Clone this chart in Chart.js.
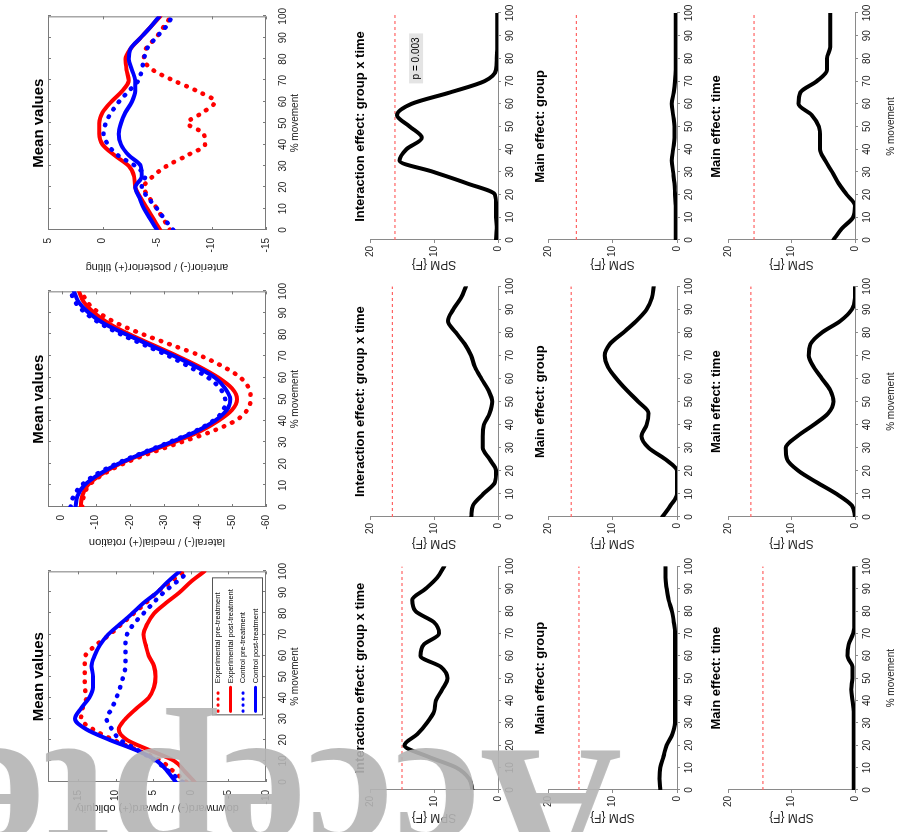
<!DOCTYPE html>
<html>
<head>
<meta charset="utf-8">
<script src="https://cdn.jsdelivr.net/npm/chart.js@4.4.1/dist/chart.umd.min.js"></script>
<style>
  html, body { margin: 0; padding: 0; background: #fff; width: 899px; height: 832px; overflow: hidden; }
  .panel { position: absolute; transform-origin: 0 0; }
  .panel canvas { display: block; }
  #mark {
    position: absolute; left: 622px; top: 916px; z-index: 10;
    transform-origin: 0 0; transform: rotate(180deg);
    font: bold 196px "Liberation Serif", serif; line-height: 200px;
    color: rgba(180, 180, 180, 0.9); white-space: nowrap; pointer-events: none;
  }
</style>
</head>
<body>
<div id="mark">Accepted</div>
<script>
Chart.defaults.font.family = '"Liberation Sans", Arial, sans-serif';
Chart.defaults.color = '#222';
Chart.defaults.animation = false;

// % movement, shared by every panel
const pct = [0, 5, 10, 15, 20, 25, 30, 35, 40, 45, 50, 55, 60, 65, 70, 75, 80, 85, 90, 95, 100];

// mean values - tilting
const tiltExpPre  = [-6.2, -5.6, -5.0, -4.3, -3.8, -4.6, -5.9, -7.8, -9.4, -9.3, -7.8, -9.2, -10.3, -8.7, -6.5, -4.6, -3.8, -4.0, -4.9, -5.6, -6.3];
const tiltExpPost = [-5.3, -4.7, -4.1, -3.5, -3.0, -2.9, -2.4, -1.1, 0.0, 0.3, 0.3, 0.0, -0.8, -1.8, -2.4, -2.2, -2.1, -2.6, -3.5, -4.4, -5.3];
const tiltConPre  = [-6.5, -5.7, -5.0, -4.2, -3.6, -3.9, -3.0, -1.4, -0.5, -0.1, -0.3, -0.8, -1.5, -2.4, -3.3, -3.6, -3.8, -4.1, -4.9, -5.8, -6.4];
const tiltConPost = [-5.0, -4.4, -3.8, -3.4, -3.0, -3.6, -3.5, -2.4, -1.7, -1.5, -1.7, -2.1, -2.7, -3.0, -3.0, -2.7, -2.4, -2.6, -3.5, -4.4, -5.2];

// mean values - rotation
const rotExpPre  = [-6, -6.5, -8, -12, -18, -26, -35, -44, -51, -54.5, -55.5, -55, -52.5, -47.5, -41, -32.5, -24, -16.5, -11, -7.5, -6];
const rotExpPost = [-5.6, -6, -7.6, -11.5, -17, -24.5, -33, -40.5, -46, -50, -51.5, -50, -46, -40.5, -34, -27, -20, -14, -9.6, -6.5, -5.1];
const rotConPre  = [-2.6, -3.5, -5.8, -10, -16, -23.5, -31.5, -39, -44.5, -47.5, -48, -46.5, -43, -37.5, -31.5, -24.5, -17.5, -11.5, -7, -4, -2.6];
const rotConPost = [-4.1, -4.6, -6.6, -10.8, -16.6, -24, -32, -39.5, -45, -48.5, -49.5, -48, -45, -39.5, -33, -26, -19, -12.5, -8, -5, -3.6];

// mean values - obliquity
const oblExpPre  = [0.6, 2.3, 4.0, 7.0, 10.3, 13.0, 14.6, 14.4, 13.9, 14.1, 14.1, 14.1, 14.0, 12.6, 10.8, 9.2, 7.6, 6.0, 4.5, 2.7, 0.9];
const oblExpPost = [-0.5, 0.8, 2.2, 5.4, 8.5, 9.6, 8.7, 7.2, 5.6, 4.9, 4.7, 4.9, 5.6, 6.0, 6.3, 5.8, 4.9, 3.3, 1.5, 0.0, -1.8];
const oblConPre  = [1.1, 2.9, 4.7, 7.0, 9.4, 10.5, 11.2, 10.5, 9.9, 9.4, 9.0, 8.7, 8.7, 8.7, 8.5, 7.6, 6.3, 5.0, 3.6, 1.9, 0.2];
const oblConPost = [2.0, 3.1, 4.5, 7.2, 10.8, 13.9, 15.4, 14.6, 13.5, 13.0, 13.0, 13.2, 12.8, 12.1, 11.0, 9.4, 7.8, 6.3, 4.5, 3.1, 1.5];

// SPM{F} curves
const spmTiltInt  = [0.3, 0.2, 0.3, 0.3, 0.5, 4.9, 10.1, 15.4, 14.3, 11.9, 13.8, 15.8, 13.5, 7.5, 2.1, 0.3, 0.2, 0.1, 0.1, 0.1, 0.1];
const spmTiltGrp  = [0.2, 0.2, 0.2, 0.2, 0.3, 0.4, 0.6, 0.8, 0.6, 0.4, 0.4, 0.6, 0.8, 0.5, 0.3, 0.2, 0.2, 0.2, 0.2, 0.2, 0.2];
const spmTiltTime = [3.4, 2.1, 0.3, 0.0, 1.3, 2.6, 3.6, 4.7, 5.5, 5.5, 5.7, 6.8, 8.9, 8.6, 6.0, 4.4, 4.4, 3.9, 3.9, 3.9, 3.9];
const spmRotInt   = [4.2, 3.9, 2.3, 0.5, 0.3, 1.3, 2.4, 2.4, 2.2, 1.3, 0.9, 1.5, 2.6, 3.6, 4.2, 5.2, 6.6, 7.8, 7.0, 5.8, 5.0];
const spmRotGrp   = [2.3, 1.0, 0.0, 0.0, 0.0, 1.8, 4.4, 5.5, 4.7, 4.4, 6.0, 7.8, 9.4, 10.7, 11.2, 10.4, 8.3, 6.3, 4.7, 3.9, 3.6];
const spmRotTime  = [0.0, 0.5, 2.9, 6.0, 8.9, 10.7, 10.9, 9.1, 6.5, 4.2, 3.4, 3.9, 5.2, 6.5, 7.3, 7.0, 5.2, 2.3, 0.5, 0.0, 0.0];
const spmOblInt   = [4.0, 4.5, 6.5, 11.0, 14.6, 12.6, 11.1, 10.0, 9.7, 8.7, 7.9, 8.9, 12.1, 11.6, 9.2, 10.0, 12.9, 13.4, 11.3, 9.5, 8.4];
const spmOblGrp   = [2.6, 2.7, 2.6, 2.1, 1.6, 0.7, 0.3, 0.3, 0.3, 0.3, 0.3, 0.3, 0.3, 0.3, 0.3, 0.5, 0.8, 1.3, 1.6, 1.8, 1.8];
const spmOblTime  = [0.2, 0.2, 0.2, 0.2, 0.2, 0.2, 0.2, 0.2, 0.4, 0.6, 0.4, 0.4, 1.2, 1.0, 0.3, 0.1, 0.1, 0.1, 0.1, 0.1, 0.1];

// critical thresholds (int, group, time) per row
const thrTilt = [16.1, 15.6, 15.9];
const thrRot  = [16.5, 16.4, 16.4];
const thrObl  = [15.0, 15.2, 14.5];

const legendLabels = ['Experimental pre-treatment', 'Experimental post-treatment', 'Control pre-treatment', 'Control post-treatment'];

// small plugins: MATLAB style box, in-plot legend, p-value note
const boxPlugin = {
  id: 'box',
  beforeDatasetsDraw(chart, args, opts) {
    if (!opts.on) return;
    const { ctx, chartArea: a, scales: { x, y } } = chart;
    ctx.save();
    ctx.strokeStyle = '#7a7a7a';
    ctx.lineWidth = 1;
    ctx.strokeRect(a.left + 0.5, a.top + 0.5, a.width - 1, a.height - 1);
    ctx.beginPath();
    x.ticks.forEach(t => {
      const p = Math.round(x.getPixelForValue(t.value)) + 0.5;
      ctx.moveTo(p, a.bottom); ctx.lineTo(p, a.bottom - 3);
      ctx.moveTo(p, a.top); ctx.lineTo(p, a.top + 3);
    });
    y.ticks.forEach(t => {
      const p = Math.round(y.getPixelForValue(t.value)) + 0.5;
      ctx.moveTo(a.left, p); ctx.lineTo(a.left + 3, p);
      ctx.moveTo(a.right, p); ctx.lineTo(a.right - 3, p);
    });
    ctx.stroke();
    ctx.restore();
  }
};

const legendBox = {
  id: 'legendBox',
  afterDatasetsDraw(chart, args, opts) {
    if (!opts.items) return;
    const { ctx, chartArea: a } = chart;
    const w = 137, h = 50;
    const x0 = a.right - 7 - w, y0 = a.bottom - 4 - h;
    ctx.save();
    ctx.fillStyle = '#fff';
    ctx.fillRect(x0, y0, w, h);
    ctx.strokeStyle = '#555';
    ctx.lineWidth = 1;
    ctx.strokeRect(x0 + 0.5, y0 + 0.5, w, h);
    opts.items.forEach((it, i) => {
      const yy = y0 + 6 + i * 12.5;
      ctx.strokeStyle = it.color;
      ctx.lineWidth = 3;
      ctx.lineCap = 'round';
      ctx.setLineDash(it.dotted ? [0.5, 5.5] : []);
      ctx.beginPath();
      ctx.moveTo(x0 + 4, yy);
      ctx.lineTo(x0 + 28, yy);
      ctx.stroke();
      ctx.setLineDash([]);
      ctx.fillStyle = '#000';
      ctx.font = '7.5px "Liberation Sans", Arial, sans-serif';
      ctx.textBaseline = 'middle';
      ctx.fillText(it.text, x0 + 32, yy);
    });
    ctx.restore();
  }
};

const notePlugin = {
  id: 'note',
  afterDatasetsDraw(chart, args, opts) {
    if (!opts.text) return;
    const { ctx, scales: { x, y } } = chart;
    const cx = x.getPixelForValue(opts.at[0]);
    const cy = y.getPixelForValue(opts.at[1]);
    ctx.save();
    ctx.font = '10px "Liberation Sans", Arial, sans-serif';
    const w = ctx.measureText(opts.text).width + 8;
    ctx.fillStyle = '#e4e4e4';
    ctx.fillRect(cx - w / 2, cy - 7, w, 14);
    ctx.fillStyle = '#000';
    ctx.textAlign = 'center';
    ctx.textBaseline = 'middle';
    ctx.fillText(opts.text, cx, cy);
    ctx.restore();
  }
};

Chart.register(boxPlugin, legendBox, notePlugin);

function series(vals, color, dotted, order) {
  return {
    data: pct.map((x, i) => ({ x, y: vals[i] })),
    borderColor: color,
    borderWidth: dotted ? 4.5 : 4,
    borderDash: dotted ? [0.5, 8.5] : [],
    borderCapStyle: 'round',
    pointRadius: 0,
    cubicInterpolationMode: 'monotone',
    fill: false,
    order
  };
}

function threshold(v) {
  return {
    data: [{ x: 0, y: v }, { x: 100, y: v }],
    borderColor: '#ff6464',
    borderWidth: 1.2,
    borderDash: [3, 3],
    pointRadius: 0,
    order: 5
  };
}

// p: screen rectangles of the panel (sx0..sx1, sy0..sy1) and of its plot (px0..px1, py0..py1)
// the chart is drawn upright and the whole box is turned 90 degrees to the left
function makePanel(p) {
  const W = p.sy1 - p.sy0;
  const H = p.sx1 - p.sx0;
  const holder = document.createElement('div');
  holder.className = 'panel';
  holder.style.left = p.sx0 + 'px';
  holder.style.top = p.sy0 + 'px';
  holder.style.width = W + 'px';
  holder.style.height = H + 'px';
  holder.style.transform = `translate(0px, ${W}px) rotate(-90deg)`;
  const canvas = document.createElement('canvas');
  canvas.width = W;
  canvas.height = H;
  holder.appendChild(canvas);
  document.body.appendChild(holder);

  const lh = p.titleSize * 1.2;
  const tBottom = Math.max(0, p.titleOff - lh / 2);
  const tTop = (p.px0 - p.sx0) - lh - tBottom;
  const yW = p.sy1 - p.py1;
  const xH = p.sx1 - p.px1;
  const axisColor = p.mean ? 'transparent' : '#8a8a8a';

  new Chart(canvas, {
    type: 'line',
    data: { datasets: p.datasets },
    options: {
      responsive: false,
      layout: { autoPadding: false, padding: { left: 0, right: p.py0 - p.sy0, top: 0, bottom: 0 } },
      plugins: {
        legend: { display: false },
        tooltip: { enabled: false },
        title: {
          display: true,
          fullSize: false,
          text: p.title,
          color: '#000',
          font: { size: p.titleSize, weight: 'bold' },
          padding: { top: tTop, bottom: tBottom }
        },
        box: { on: !!p.mean },
        legendBox: { items: p.legend || null },
        note: p.note || {}
      },
      scales: {
        x: {
          type: 'linear',
          position: 'bottom',
          min: 0,
          max: 100,
          grid: { display: !p.mean, drawOnChartArea: false, drawTicks: true, tickLength: 3, color: axisColor },
          border: { display: !p.mean, color: axisColor },
          ticks: { stepSize: 10, autoSkip: false, maxRotation: 0, minRotation: 0, font: { size: 10 }, padding: p.mean ? 8 : 3 },
          title: {
            display: !!p.xTitle,
            text: '% movement',
            color: '#222',
            font: { size: 10 },
            padding: { top: 0, bottom: p.xTitlePad || 0 }
          },
          afterFit: s => { s.height = xH; }
        },
        y: {
          type: 'linear',
          position: 'left',
          min: p.yMin,
          max: p.yMax,
          grid: { display: !p.mean, drawOnChartArea: false, drawTicks: true, tickLength: 3, color: axisColor },
          border: { display: !p.mean, color: axisColor },
          ticks: { stepSize: p.yStep, includeBounds: false, font: { size: 10 }, padding: p.mean ? 5 : 3 },
          title: {
            display: true,
            text: p.yTitle,
            color: '#222',
            font: { size: p.mean ? 11 : 12 },
            padding: { top: (p.sy1 - p.yLabAt) - (p.mean ? 6.6 : 7.2), bottom: 0 }
          },
          afterFit: s => { s.width = yW; }
        }
      }
    }
  });
}

const rows = [
  { sy0: 0,   sy1: 275, mTop: 12,  mBot: 230, sTop: 13,  sBot: 240, mLab: 267, sLab: 264 },
  { sy0: 275, sy1: 555, mTop: 288, mBot: 507, sTop: 285, sBot: 517, mLab: 542, sLab: 543 },
  { sy0: 555, sy1: 832, mTop: 563, mBot: 782, sTop: 563, sBot: 790, mLab: 808, sLab: 817 }
];

const cols = [
  { sx0: 345, sx1: 525, px0: 370, px1: 498, titleOff: 10, title: 'Interaction effect: group x time' },
  { sx0: 525, sx1: 705, px0: 548, px1: 677, titleOff: 8,  title: 'Main effect: group' },
  { sx0: 705, sx1: 899, px0: 728, px1: 855, titleOff: 12, title: 'Main effect: time', xTitle: true, xTitlePad: 2 }
];

const meanDefs = [
  { yTitle: 'anterior(-) / posterior(+) tilting', yMin: -15, yMax: 5, yStep: 5,
    sets: [tiltExpPre, tiltExpPost, tiltConPre, tiltConPost] },
  { yTitle: 'lateral(-) / medial(+) rotation', yMin: -60, yMax: 4, yStep: 10,
    sets: [rotExpPre, rotExpPost, rotConPre, rotConPost] },
  { yTitle: 'downward(-) / upward(+) obliquity', yMin: -10, yMax: 19, yStep: 5,
    sets: [oblExpPre, oblExpPost, oblConPre, oblConPost] }
];

const spmDefs = [
  { curves: [spmTiltInt, spmTiltGrp, spmTiltTime], thr: thrTilt },
  { curves: [spmRotInt, spmRotGrp, spmRotTime], thr: thrRot },
  { curves: [spmOblInt, spmOblGrp, spmOblTime], thr: thrObl }
];

rows.forEach((r, i) => {
  const m = meanDefs[i];
  makePanel({
    mean: true,
    sx0: 20, sx1: 305, px0: 48, px1: 266,
    sy0: r.sy0, sy1: r.sy1, py0: r.mTop, py1: r.mBot,
    title: 'Mean values', titleSize: 15, titleOff: 9,
    xTitle: true, xTitlePad: 4,
    yTitle: m.yTitle, yLabAt: r.mLab,
    yMin: m.yMin, yMax: m.yMax, yStep: m.yStep,
    legend: i === 2 ? [
      { text: legendLabels[0], color: '#ff0000', dotted: true },
      { text: legendLabels[1], color: '#ff0000', dotted: false },
      { text: legendLabels[2], color: '#0000ff', dotted: true },
      { text: legendLabels[3], color: '#0000ff', dotted: false }
    ] : null,
    datasets: [
      series(m.sets[0], '#ff0000', true, 4),
      series(m.sets[1], '#ff0000', false, 3),
      series(m.sets[2], '#0000ff', true, 2),
      series(m.sets[3], '#0000ff', false, 1)
    ]
  });

  cols.forEach((c, j) => {
    makePanel({
      sx0: c.sx0, sx1: c.sx1, px0: c.px0, px1: c.px1,
      sy0: r.sy0, sy1: r.sy1, py0: r.sTop, py1: r.sBot,
      title: c.title, titleSize: 13, titleOff: c.titleOff,
      xTitle: c.xTitle, xTitlePad: c.xTitlePad,
      yTitle: 'SPM {F}', yLabAt: r.sLab,
      yMin: 0, yMax: 20, yStep: 10,
      note: (i === 0 && j === 0) ? { text: 'p = 0.003', at: [80, 12.8] } : null,
      datasets: [
        series(spmDefs[i].curves[j], '#000000', false, 1),
        threshold(spmDefs[i].thr[j])
      ]
    });
  });
});
</script>
</body>
</html>
